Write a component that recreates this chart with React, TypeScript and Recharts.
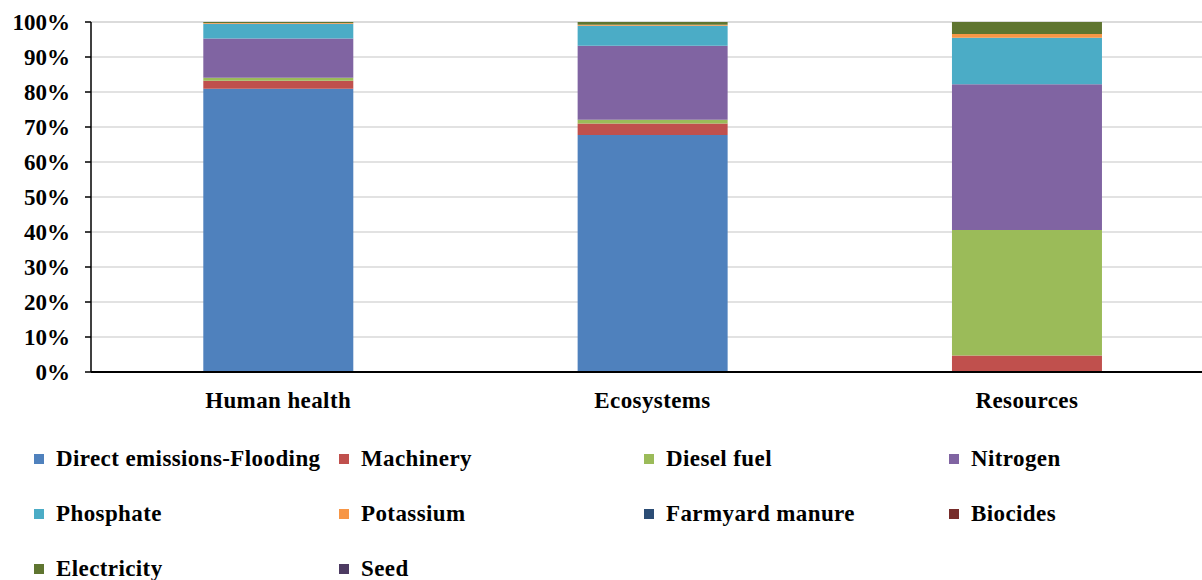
import React from 'react'
import { BarChart, Bar, XAxis, YAxis, CartesianGrid } from 'recharts'

const categories = ['Human health', 'Ecosystems', 'Resources']

const directEmissions = [80.9, 67.7, 0]
const machinery = [2.3, 3.3, 4.7]
const dieselFuel = [0.9, 1.1, 35.9]
const nitrogen = [11.2, 21.1, 41.6]
const phosphate = [4.2, 5.7, 13.3]
const potassium = [0.2, 0.3, 1.1]
const farmyardManure = [0, 0, 0]
const biocides = [0, 0, 0]
const electricity = [0.3, 0.8, 3.4]
const seed = [0, 0, 0]

const yTicks = [0, 10, 20, 30, 40, 50, 60, 70, 80, 90, 100]

const SERIES = [
  { key: 'direct', name: 'Direct emissions-Flooding', color: '#4F81BD', values: directEmissions },
  { key: 'machinery', name: 'Machinery', color: '#C0504D', values: machinery },
  { key: 'diesel', name: 'Diesel fuel', color: '#9BBB59', values: dieselFuel },
  { key: 'nitrogen', name: 'Nitrogen', color: '#8064A2', values: nitrogen },
  { key: 'phosphate', name: 'Phosphate', color: '#4BACC6', values: phosphate },
  { key: 'potassium', name: 'Potassium', color: '#F79646', values: potassium },
  { key: 'manure', name: 'Farmyard manure', color: '#2C4D75', values: farmyardManure },
  { key: 'biocides', name: 'Biocides', color: '#772C2A', values: biocides },
  { key: 'electricity', name: 'Electricity', color: '#5F7530', values: electricity },
  { key: 'seed', name: 'Seed', color: '#4D3B62', values: seed },
]

const data = categories.map((name, i) => {
  const row: Record<string, string | number> = { name }
  SERIES.forEach((s) => {
    row[s.key] = s.values[i]
  })
  return row
})

const FONT = '"Liberation Serif", "Times New Roman", serif'

// legend laid out as a 4-column grid below the plot
const LegendGrid = () => (
  <div
    style={{
      position: 'absolute',
      left: 34,
      top: 447,
      display: 'grid',
      gridTemplateColumns: 'repeat(4, 305px)',
      gridAutoRows: '55px',
      fontFamily: FONT,
      fontWeight: 'bold',
      fontSize: 23,
      letterSpacing: 0.4,
      color: '#000',
    }}
  >
    {SERIES.map((s) => (
      <div key={s.key} style={{ display: 'flex', alignItems: 'center', height: 24 }}>
        <span
          style={{ width: 10, height: 10, background: s.color, display: 'inline-block', marginRight: 12 }}
        />
        <span style={{ whiteSpace: 'nowrap' }}>{s.name}</span>
      </div>
    ))}
  </div>
)

export default function App() {
  return (
    <div
      style={{
        position: 'absolute',
        left: 0,
        top: 0,
        width: 1202,
        height: 580,
        overflow: 'hidden',
        background: '#fff',
      }}
    >
      <BarChart
        width={1214}
        height={580}
        data={data}
        margin={{ top: 22, right: 0, left: 0, bottom: 0 }}
        barCategoryGap="30%"
      >
        <CartesianGrid vertical={false} stroke="#d9d9d9" strokeWidth={1.5} />
        <XAxis
          dataKey="name"
          height={208}
          axisLine={{ stroke: '#000', strokeWidth: 2 }}
          tickLine={false}
          tickMargin={14}
          tick={{ fill: '#000', fontFamily: FONT, fontWeight: 'bold', fontSize: 23, letterSpacing: 0.4 }}
        />
        <YAxis
          width={91}
          domain={[0, 100]}
          ticks={yTicks}
          interval={0}
          tickFormatter={(v) => `${v}%`}
          axisLine={{ stroke: '#000', strokeWidth: 1.5 }}
          tickLine={{ stroke: '#000', strokeWidth: 1.5 }}
          tickSize={6}
          tickMargin={15}
          tick={{ fill: '#000', fontFamily: FONT, fontWeight: 'bold', fontSize: 23 }}
        />
        {SERIES.map((s) => (
          <Bar
            key={s.key}
            dataKey={s.key}
            name={s.name}
            stackId="a"
            fill={s.color}
            isAnimationActive={false}
          />
        ))}
      </BarChart>
      <LegendGrid />
    </div>
  )
}
